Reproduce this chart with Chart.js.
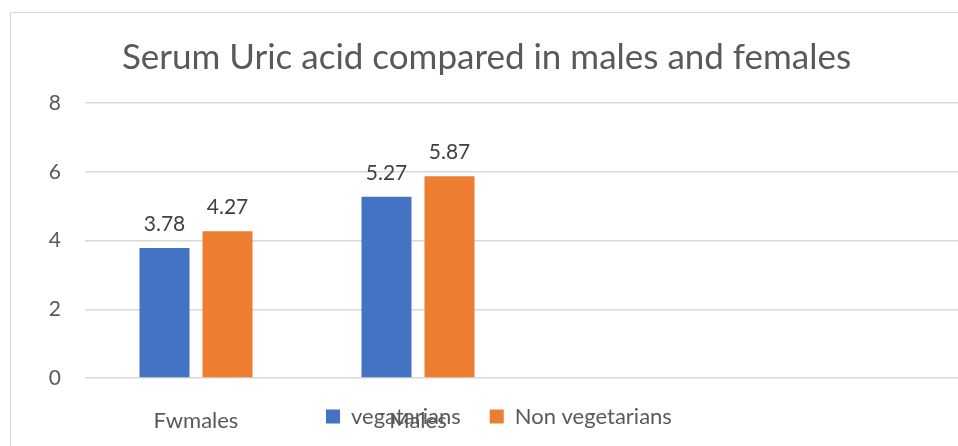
<!DOCTYPE html>
<html><head><meta charset="utf-8">
<script src="https://cdn.jsdelivr.net/npm/chart.js@4/dist/chart.umd.min.js"></script>
<style>
html,body{margin:0;padding:0;overflow:hidden;background:#fff;width:958px;height:446px;}
#frame{position:absolute;left:10px;top:12px;width:1000px;height:500px;border-left:1px solid #d9d9d9;border-top:1px solid #d9d9d9;box-sizing:border-box;}
#wrap{position:absolute;left:0;top:0;width:983px;height:446px;}
</style></head><body>
<div id="frame"></div>
<div id="wrap"><canvas id="c"></canvas></div>
<script>
const chartTitle = 'Serum Uric acid compared in males and females';
const categories = ['Fwmales', 'Males', '', ''];
const seriesNames = ['vegatarians', 'Non vegetarians'];
const vegetarians = [3.78, 5.27, null, null];
const nonVegetarians = [4.27, 5.87, null, null];
const yTicks = [0, 2, 4, 6, 8];

Chart.defaults.font.family = 'Lato';
Chart.defaults.color = '#595959';

const valueLabels = {
  id: 'valueLabels',
  afterDatasetsDraw(chart) {
    const ctx = chart.ctx;
    ctx.save();
    ctx.font = '21px Lato';
    ctx.fillStyle = '#404040';
    ctx.textAlign = 'center';
    ctx.textBaseline = 'alphabetic';
    chart.data.datasets.forEach((ds, di) => {
      const meta = chart.getDatasetMeta(di);
      meta.data.forEach((el, i) => {
        const v = ds.data[i];
        if (v == null) return;
        ctx.fillText(v.toFixed(2), el.x, el.y - 17);
      });
    });
    ctx.restore();
  }
};

const legendPlace = {
  id: 'legendPlace',
  beforeLayout(chart) {
    const L = chart.legend;
    if (L && !L._patched) {
      const fit = L.fit.bind(L);
      L.fit = function () { fit(); this.height = 0; };
      L._patched = true;
    }
  },
  beforeDraw(chart) {
    const L = chart.legend;
    if (!L) return;
    L.left = 297; L.right = 297 + 900;
    L.top = 376.5; L.bottom = chart.height;
  }
};

new Chart(document.getElementById('c'), {
  type: 'bar',
  data: {
    labels: categories,
    datasets: [
      { label: seriesNames[0], data: vegetarians, backgroundColor: '#4472C4', borderWidth: 0,
        barPercentage: 0.794, categoryPercentage: 0.5676 },
      { label: seriesNames[1], data: nonVegetarians, backgroundColor: '#ED7D31', borderWidth: 0,
        barPercentage: 0.794, categoryPercentage: 0.5676 }
    ]
  },
  options: {
    responsive: true,
    maintainAspectRatio: false,
    animation: false,
    layout: { padding: { left: 0, right: 10, top: 0, bottom: 0 } },
    plugins: {
      title: {
        display: true, text: chartTitle, color: '#595959',
        font: { size: 35, weight: 'normal', family: 'Lato' },
        padding: { top: 36.5, bottom: 24.5 }
      },
      legend: {
        position: 'bottom', align: 'start',
        labels: { boxWidth: 14, boxHeight: 14, padding: 29, color: '#595959',
          font: { size: 22, family: 'Lato' } }
      },
      tooltip: { enabled: false }
    },
    scales: {
      x: {
        grid: { display: false, drawTicks: false },
        border: { display: false },
        ticks: { padding: 30, color: '#595959', font: { size: 22 }, autoSkip: false, maxRotation: 0 },
        afterFit(s) { s.height = 68; }
      },
      y: {
        min: 0, max: 8,
        afterBuildTicks(s) { s.ticks = yTicks.map(v => ({ value: v })); },
        grid: { color: '#d9d9d9', lineWidth: 1.5, drawTicks: false },
        border: { display: false },
        ticks: { padding: 24, color: '#595959', font: { size: 21 } },
        afterFit(s) { s.width = 85; }
      }
    }
  },
  plugins: [valueLabels, legendPlace]
});
</script>
</body></html>
